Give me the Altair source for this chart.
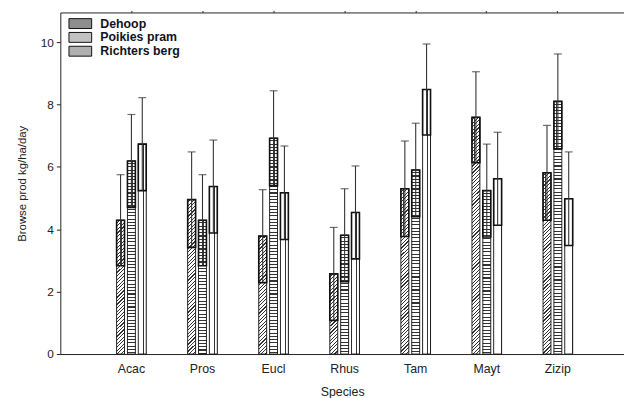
import altair as alt
import pandas as pd

# ---------------- data ----------------
species = ["Acac", "Pros", "Eucl", "Rhus", "Tam", "Mayt", "Zizip"]
sites = ["Dehoop", "Poikies pram", "Richters berg"]
dehoop_mean = [4.29, 4.95, 3.78, 2.57, 5.30, 7.59, 5.81]
poikies_mean = [6.19, 4.29, 6.92, 3.81, 5.90, 5.24, 8.10]
richters_mean = [6.73, 5.37, 5.17, 4.54, 8.48, 5.62, 4.98]
dehoop_se = [1.46, 1.53, 1.49, 1.49, 1.53, 1.46, 1.52]
poikies_se = [1.49, 1.46, 1.52, 1.49, 1.50, 1.49, 1.52]
richters_se = [1.49, 1.49, 1.50, 1.49, 1.46, 1.49, 1.50]
y_ticks = [0, 2, 4, 6, 8, 10]

# ---------------- layout / style constants ----------------
FONT = "Liberation Sans"
INK = "#222222"
PLOT_W, PLOT_H = 571, 346
Y_MAX = 10.95
PX = PLOT_H / Y_MAX          # pixels per unit on the y scale
BAR_W = 8.0                  # pixel width of one bar (from band scales below)

rows = []
for s, m, e in [(sites[0], dehoop_mean, dehoop_se),
                (sites[1], poikies_mean, poikies_se),
                (sites[2], richters_mean, richters_se)]:
    for sp, mv, ev in zip(species, m, e):
        rows.append({"species": sp, "site": s, "mean": mv, "se": ev})
df = pd.DataFrame(rows)


# ---------------- hatch patterns built as sharp-stop gradients ----------------
def stripe_stops(n, dark_frac, dark, light):
    stops = []
    period = 1.0 / n
    i = 0
    while i * period < 1.0 - 1e-9:
        a = i * period
        b = min(1.0, a + period * (1 - dark_frac))
        c = min(1.0, a + period)
        stops += [(a, light), (b, light), (b, dark), (c, dark)]
        i += 1
    return [{"offset": round(o, 5), "color": col} for o, col in stops]


def horiz_lines(h):
    n = max(1.0, h / 3.3)
    return {"gradient": "linear", "x1": 0, "y1": 0, "x2": 0, "y2": 1,
            "stops": stripe_stops(n, 0.33, "#333333", "#ffffff")}


def diag_lines(h):
    # gradient in bounding-box space whose isolines are x + y = const in pixels ("/")
    w = BAR_W
    k = (w + h) / (w * w + h * h)
    n = (w + h) / 3.6
    return {"gradient": "linear", "x1": 0, "y1": 0, "x2": k * w, "y2": k * h,
            "stops": stripe_stops(n, 0.32, "#333333", "#ffffff")}


vert_lines = {"gradient": "linear", "x1": 0, "y1": 0, "x2": 1, "y2": 0,
              "stops": stripe_stops(3, 0.16, "#333333", "#ffffff")}
box_lines = {"gradient": "linear", "x1": 0, "y1": 0, "x2": 1, "y2": 0,
             "stops": stripe_stops(3, 0.16, "rgba(40,40,40,0.9)", "rgba(255,255,255,0)")}


def per_species_fill(values, maker):
    chain = None
    for sp, v in zip(species, values):
        pred = alt.datum.species == sp
        g = alt.value(maker(v * PX))
        chain = alt.when(pred).then(g) if chain is None else chain.when(pred).then(g)
    return chain.otherwise(alt.value("#ffffff"))


# ---------------- encodings ----------------
x_scale = alt.Scale(paddingInner=0.583, paddingOuter=0.757, align=0.523)
off_scale = alt.Scale(paddingInner=0.27, paddingOuter=0)
y_scale = alt.Scale(domain=[0, Y_MAX], nice=False, zero=True)

y_axis = alt.Axis(values=y_ticks, title="Browse prod kg/ha/day", grid=False,
                  tickSize=4, tickColor=INK, domainColor=INK, labelColor=INK,
                  labelFontSize=12, labelPadding=3, titleFontSize=11.5,
                  titleFontWeight="normal", titleColor=INK, titlePadding=13)
x_axis_bottom = alt.Axis(orient="bottom", title="Species", ticks=False, labelAngle=0,
                         domainColor=INK, labelColor=INK, labelFontSize=12.5,
                         labelPadding=9, titleFontSize=12.5, titleFontWeight="normal",
                         titleColor=INK, titlePadding=10)
x_axis_top = alt.Axis(orient="top", title=None, labels=False, ticks=True, tickSize=2,
                      tickColor=INK, domainColor=INK)


def X(axis=None):
    return alt.X("species:N", sort=species, scale=x_scale, axis=axis)


XO = alt.XOffset("site:N", sort=sites, scale=off_scale)

base = alt.Chart(df).transform_calculate(
    lo="datum.mean - datum.se", hi="datum.mean + datum.se"
)

# legend carrier (covered by the patterned bars)
legend_bars = base.mark_bar(strokeWidth=0).encode(
    x=X(x_axis_bottom), xOffset=XO,
    y=alt.Y("mean:Q", scale=y_scale, axis=y_axis),
    fill=alt.Fill("site:N", sort=sites,
                  scale=alt.Scale(domain=sites, range=["#8e8e8e", "#c2c2c2", "#b0b0b0"]),
                  legend=alt.Legend(
                      title=None, orient="none", legendX=14, legendY=5,
                      symbolType="M-2.09,-0.91H2.09V0.91H-2.09Z", symbolSize=121,
                      symbolStrokeColor="#111111", symbolStrokeWidth=1,
                      labelOffset=14, labelFont=FONT, labelFontSize=12.5,
                      labelFontWeight="bold", labelColor="#111122",
                      rowPadding=-2.5, padding=0)),
)

dehoop_bars = base.transform_filter(alt.datum.site == sites[0]).mark_bar(
    stroke="#111111", strokeWidth=0.9).encode(
    x=X(x_axis_top), xOffset=XO,
    y=alt.Y("mean:Q", scale=y_scale, axis=y_axis),
    fill=per_species_fill(dehoop_mean, diag_lines),
)
poikies_bars = base.transform_filter(alt.datum.site == sites[1]).mark_bar(
    stroke="#111111", strokeWidth=0.9).encode(
    x=X(), xOffset=XO,
    y=alt.Y("mean:Q", scale=y_scale, axis=y_axis),
    fill=per_species_fill(poikies_mean, horiz_lines),
)
richters_bars = base.transform_filter(alt.datum.site == sites[2]).mark_bar(
    stroke="#111111", strokeWidth=0.9, fill=vert_lines).encode(
    x=X(), xOffset=XO,
    y=alt.Y("mean:Q", scale=y_scale, axis=y_axis),
)

boxes = base.mark_bar(stroke="#111111", strokeWidth=1.6, fill=box_lines).encode(
    x=X(), xOffset=XO,
    y=alt.Y("lo:Q", scale=y_scale, axis=y_axis),
    y2="mean:Q",
)

whisk = base.mark_rule(color="#333333", strokeWidth=1.1).encode(
    x=X(), xOffset=XO,
    y=alt.Y("lo:Q", scale=y_scale, axis=y_axis),
    y2="hi:Q",
)

caps = base.mark_tick(color="#333333", thickness=1.2, size=8).encode(
    x=X(), xOffset=XO,
    y=alt.Y("hi:Q", scale=y_scale, axis=y_axis),
)

chart = alt.layer(
    legend_bars, dehoop_bars, poikies_bars, richters_bars, boxes, whisk, caps
).resolve_axis(x="independent").properties(
    width=PLOT_W, height=PLOT_H,
    padding={"left": 53, "top": 2, "right": 0, "bottom": 42},
    autosize=alt.AutoSizeParams(type="none"),
    background="white",
).configure_view(stroke=None).configure_axis(
    labelFont=FONT, titleFont=FONT
)

chart.save("out.html", embed_options={"renderer": "svg", "actions": False})
